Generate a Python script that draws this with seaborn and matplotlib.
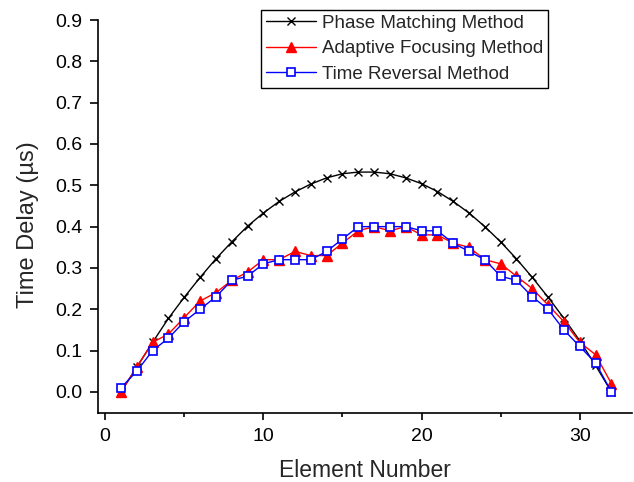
import numpy as np
import pandas as pd
import seaborn as sns
import matplotlib
matplotlib.use("Agg")
import matplotlib.pyplot as plt
from matplotlib.ticker import MultipleLocator

# --- Data ---
elements = list(range(1, 33))
phase_matching = [0.00, 0.06, 0.12, 0.178, 0.229, 0.277, 0.322, 0.363, 0.401, 0.433,
                  0.461, 0.484, 0.503, 0.518, 0.528, 0.532, 0.532, 0.528, 0.518, 0.504,
                  0.485, 0.461, 0.433, 0.40, 0.363, 0.322, 0.277, 0.229, 0.178, 0.124,
                  0.064, 0.00]
adaptive_focusing = [0.00, 0.06, 0.12, 0.14, 0.18, 0.22, 0.24, 0.27, 0.29, 0.32,
                     0.32, 0.34, 0.33, 0.33, 0.36, 0.39, 0.40, 0.39, 0.40, 0.38,
                     0.38, 0.36, 0.35, 0.32, 0.31, 0.28, 0.25, 0.21, 0.17, 0.12,
                     0.09, 0.02]
time_reversal = [0.01, 0.05, 0.10, 0.13, 0.17, 0.20, 0.23, 0.27, 0.28, 0.31,
                 0.32, 0.32, 0.32, 0.34, 0.37, 0.40, 0.40, 0.40, 0.40, 0.39,
                 0.39, 0.36, 0.34, 0.32, 0.28, 0.27, 0.23, 0.20, 0.15, 0.11,
                 0.07, 0.00]

df = pd.DataFrame({
    'element': elements,
    'phase': phase_matching,
    'adaptive': adaptive_focusing,
    'reversal': time_reversal,
})

sns.set_theme(style="ticks")
plt.rcParams['font.family'] = ['Liberation Sans', 'DejaVu Sans']

fig = plt.figure(figsize=(6.34, 4.82), dpi=100)
ax = fig.add_axes([98 / 634, 1 - 412.6 / 482, (632 - 98) / 634, (412.6 - 20) / 482])

sns.lineplot(data=df, x='element', y='phase', ax=ax, color='black', lw=1.0,
             marker='x', markersize=5.5, markeredgecolor='black', markeredgewidth=1.0,
             label='Phase Matching Method')
sns.lineplot(data=df, x='element', y='adaptive', ax=ax, color='red', lw=1.0,
             marker='^', markersize=7.5, markerfacecolor='red', markeredgecolor='red',
             markeredgewidth=1.0, label='Adaptive Focusing Method')
sns.lineplot(data=df, x='element', y='reversal', ax=ax, color='blue', lw=1.0,
             marker='s', markersize=6, markerfacecolor='white', markeredgecolor='blue',
             markeredgewidth=1.2, label='Time Reversal Method')

ax.set_xlim(-0.45, 33.3)
ax.set_ylim(-0.05, 0.9)
ax.set_yticks(np.arange(0, 0.91, 0.1))
ax.set_yticklabels([f'{v:.1f}' for v in np.arange(0, 0.91, 0.1)])
ax.xaxis.set_major_locator(MultipleLocator(10))
ax.xaxis.set_minor_locator(MultipleLocator(5))
ax.tick_params(axis='both', which='major', direction='out', width=1.2,
               labelsize=14, color='black', labelcolor='black')
ax.tick_params(axis='y', which='major', length=6, pad=5.5)
ax.tick_params(axis='x', which='major', length=5, pad=6)
ax.tick_params(axis='x', which='minor', direction='out', length=3, width=1.2, color='black')

for side in ['top', 'right']:
    ax.spines[side].set_visible(False)
for side in ['left', 'bottom']:
    ax.spines[side].set_linewidth(1.2)
    ax.spines[side].set_color('black')

ax.set_xlabel('Element Number', fontsize=16.5)
ax.set_ylabel('Time Delay (\u00b5s)', fontsize=17)
ax.xaxis.set_label_coords(0.499, -0.118)
ax.yaxis.set_label_coords(-0.11, 0.48)

leg = ax.legend(loc='upper left', bbox_to_anchor=(261 / 634, 1 - 10 / 482),
                bbox_transform=fig.transFigure, fontsize=13.5, frameon=True,
                fancybox=False, edgecolor='black', framealpha=1, borderaxespad=0,
                handlelength=2.7, handletextpad=0.3, labelspacing=0.45, borderpad=0.25)
leg.get_frame().set_linewidth(1.0)

fig.savefig('out.png', dpi=100)
